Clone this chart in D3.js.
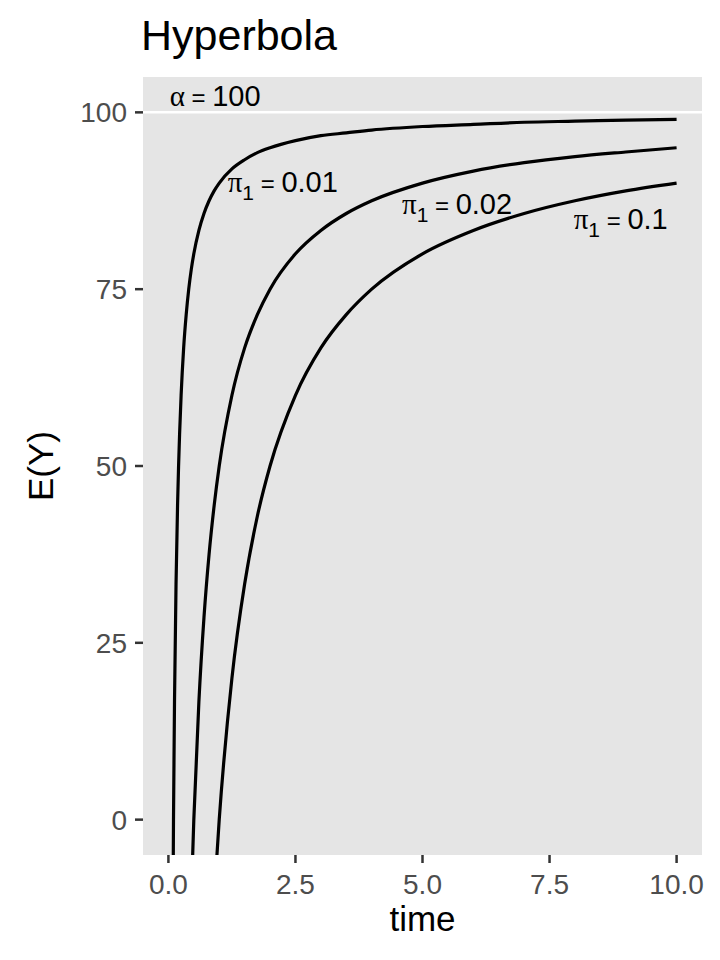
<!DOCTYPE html>
<html>

<head>
  <meta charset="utf-8">
  <style>

    body {
      margin: 0;
      background: #ffffff;
      font-family: "Liberation Sans", Arial, Helvetica, sans-serif;
    }

    .tickLabel {
      fill: #4d4d4d;
      font-size: 28px;
    }

    .axisTitle {
      fill: #000;
      font-size: 35px;
    }

    .note {
      fill: #000;
      font-size: 29px;
    }

    .greek {
      font-family: "Liberation Serif", "DejaVu Serif", serif;
    }

  </style>
</head>

<body>

  <svg width="720" height="960"></svg>
  <script src="https://cdnjs.cloudflare.com/ajax/libs/d3/7.8.5/d3.min.js"></script>
  <script>

  // time points and expected response
  var times = [0.08, 0.1, 0.12, 0.15, 0.18, 0.2, 0.22, 0.25, 0.3, 0.35, 0.4, 0.45, 0.5, 0.6, 0.7, 0.8, 0.9, 1,
    1.25, 1.5, 1.75, 2, 2.5, 3, 3.5, 4, 5, 6, 7, 8, 9, 10];

  var curveA = [-25, 0, 16.7, 33.3, 44.4, 50, 54.5, 60, 66.7, 71.4, 75, 77.8, 80, 83.3, 85.7, 87.5, 88.9, 90,
    92, 93.3, 94.3, 95, 96, 96.7, 97.1, 97.5, 98, 98.3, 98.6, 98.75, 98.9, 99];

  var curveB = [-525, -400, -316.7, -233.3, -177.8, -150, -127.3, -100, -66.7, -42.9, -25, -11.1, 0, 16.7, 28.6, 37.5, 44.4, 50,
    60, 66.7, 71.4, 75, 80, 83.3, 85.7, 87.5, 90, 91.7, 92.9, 93.75, 94.4, 95];

  var curveC = [-1150, -900, -733.3, -566.7, -455.6, -400, -354.5, -300, -233.3, -185.7, -150, -122.2, -100, -66.7, -42.9, -25, -11.1, 0,
    20, 33.3, 42.9, 50, 60, 66.7, 71.4, 75, 80, 83.3, 85.7, 87.5, 88.9, 90];

  var alphaLevel = 100;

  var xTicks = [0, 2.5, 5, 7.5, 10];
  var yTicks = [0, 25, 50, 75, 100];

  // label text and where it sits (data units)
  var labelNames = ["0.01", "0.02", "0.1"];
  var labelX = [2.25, 5.68, 8.9];
  var labelY = [90.2, 87.1, 85];

  var svg = d3.select("svg"),
  panel = {left: 143, top: 77, right: 702, bottom: 855};

  var x = d3.scaleLinear()
  .domain([-0.5, 10.5])
  .range([panel.left, panel.right]);

  var y = d3.scaleLinear()
  .domain([-5, 105])
  .range([panel.bottom, panel.top]);

  // title
  svg.append("text")
  .attr("x", 141)
  .attr("y", 50)
  .attr("font-size", 43)
  .attr("fill", "#000")
  .text("Hyperbola");

  // panel background
  svg.append("rect")
  .attr("x", panel.left)
  .attr("y", panel.top)
  .attr("width", panel.right - panel.left)
  .attr("height", panel.bottom - panel.top)
  .attr("fill", "#e5e5e5");

  svg.append("clipPath")
  .attr("id", "clip")
  .append("rect")
  .attr("x", panel.left)
  .attr("y", panel.top)
  .attr("width", panel.right - panel.left)
  .attr("height", panel.bottom - panel.top);

  var plot = svg.append("g").attr("clip-path", "url(#clip)");

  // asymptote
  plot.append("line")
  .attr("x1", panel.left)
  .attr("x2", panel.right)
  .attr("y1", y(alphaLevel))
  .attr("y2", y(alphaLevel))
  .attr("stroke", "#fff")
  .attr("stroke-width", 2.5);

  var line = d3.line()
  .x(function(d) { return x(d[0]); })
  .y(function(d) { return y(d[1]); })
  .curve(d3.curveMonotoneX);

  [curveA, curveB, curveC].forEach(function(vals) {
    plot.append("path")
    .datum(times.map(function(t, i) { return [t, vals[i]]; }))
    .attr("fill", "none")
    .attr("stroke", "#000")
    .attr("stroke-width", 3.2)
    .attr("d", line);
  });

  // alpha note
  var alphaText = svg.append("text")
  .attr("class", "note")
  .attr("x", x(0.92))
  .attr("y", y(102.4))
  .attr("dy", "0.36em")
  .attr("text-anchor", "middle");
  alphaText.append("tspan").attr("class", "greek").text("\u03b1");
  alphaText.append("tspan").attr("font-size", 24).text(" = ");
  alphaText.append("tspan").text(alphaLevel);

  // pi notes
  labelNames.forEach(function(name, i) {
    var t = svg.append("text")
    .attr("class", "note")
    .attr("x", x(labelX[i]))
    .attr("y", y(labelY[i]))
    .attr("dy", "0.36em")
    .attr("text-anchor", "middle");
    t.append("tspan").attr("class", "greek").text("\u03c0");
    t.append("tspan").attr("font-size", 21).attr("dy", 8).text("1");
    t.append("tspan").attr("font-size", 24).attr("dy", -8).text(" = ");
    t.append("tspan").text(name);
  });

  // y axis
  var yAxis = svg.append("g");
  yAxis.selectAll("line")
  .data(yTicks)
  .enter().append("line")
  .attr("x1", panel.left - 8)
  .attr("x2", panel.left)
  .attr("y1", function(d) { return y(d); })
  .attr("y2", function(d) { return y(d); })
  .attr("stroke", "#333")
  .attr("stroke-width", 2.5);

  yAxis.selectAll("text")
  .data(yTicks)
  .enter().append("text")
  .attr("class", "tickLabel")
  .attr("x", panel.left - 16)
  .attr("y", function(d) { return y(d); })
  .attr("dy", "0.36em")
  .attr("text-anchor", "end")
  .text(function(d) { return d; });

  // x axis
  var xAxis = svg.append("g");
  xAxis.selectAll("line")
  .data(xTicks)
  .enter().append("line")
  .attr("x1", function(d) { return x(d); })
  .attr("x2", function(d) { return x(d); })
  .attr("y1", panel.bottom)
  .attr("y2", panel.bottom + 8)
  .attr("stroke", "#333")
  .attr("stroke-width", 2.5);

  xAxis.selectAll("text")
  .data(xTicks)
  .enter().append("text")
  .attr("class", "tickLabel")
  .attr("x", function(d) { return x(d); })
  .attr("y", 894)
  .attr("text-anchor", "middle")
  .text(function(d) { return d3.format(".1f")(d); });

  // axis titles
  svg.append("text")
  .attr("class", "axisTitle")
  .attr("x", (panel.left + panel.right) / 2)
  .attr("y", 931)
  .attr("text-anchor", "middle")
  .text("time");

  svg.append("text")
  .attr("class", "axisTitle")
  .attr("transform", "translate(53," + (panel.top + panel.bottom) / 2 + ") rotate(-90)")
  .attr("text-anchor", "middle")
  .text("E(Y)");

</script>
</body>
</html>
